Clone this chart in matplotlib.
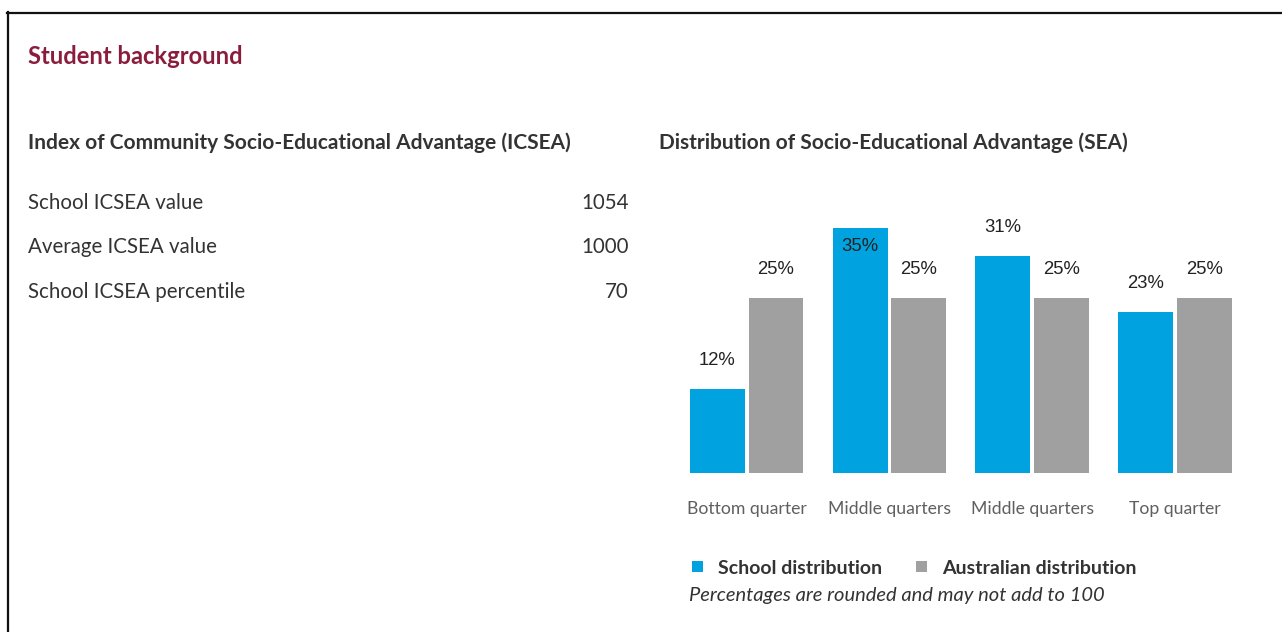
import matplotlib
matplotlib.use("Agg")
import matplotlib.pyplot as plt
from matplotlib.patches import Patch
from matplotlib.lines import Line2D
import numpy as np

# --- data -------------------------------------------------------------
categories = ["Bottom quarter", "Middle quarters", "Middle quarters", "Top quarter"]
school_pct = [12, 35, 31, 23]
australia_pct = [25, 25, 25, 25]

icsea_labels = ["School ICSEA value", "Average ICSEA value", "School ICSEA percentile"]
icsea_values = ["1054", "1000", "70"]

series_names = ["School distribution", "Australian distribution"]

# --- style ------------------------------------------------------------
BLUE = "#00A3DF"
GREY = "#A0A0A0"
TITLE_RED = "#8A1C3C"
DARK = "#333333"
AXIS_TXT = "#5F5F5F"
FONT = "Lato"

W, H = 1282, 632
fig = plt.figure(figsize=(W / 100, H / 100), dpi=100)
fig.patch.set_facecolor("white")


def fx(x):
    return x / W


def fy(y):
    return 1 - y / H


def ftext(x, y, s, **kw):
    kw.setdefault("family", FONT)
    kw.setdefault("color", DARK)
    kw.setdefault("va", "center")
    fig.text(fx(x), fy(y), s, **kw)


# frame lines (top and left edges of the panel)
fig.add_artist(Line2D([fx(7), fx(W)], [fy(12.5), fy(12.5)], color="#111111", lw=1.6))
fig.add_artist(Line2D([fx(7.5), fx(7.5)], [fy(12), fy(H)], color="#111111", lw=1.6))

# headings
ftext(28, 57, "Student background", size=17.1, weight="bold", color=TITLE_RED)
ftext(28, 143, "Index of Community Socio-Educational Advantage (ICSEA)", size=15, weight="bold")
ftext(659, 143, "Distribution of Socio-Educational Advantage (SEA)", size=15, weight="bold")

# ICSEA table
row_y = [203, 247, 292]
for lab, val, y in zip(icsea_labels, icsea_values, row_y):
    ftext(28, y, lab, size=14.8)
    ftext(629, y, val, size=14.8, ha="right")

# --- bar chart --------------------------------------------------------
group_px = 142.7
center0 = 746.75
base_y = 473
px_per_pct = 7.0
ymax = 36
left_px = center0 - 0.5 * group_px
ax = fig.add_axes([fx(left_px), fy(base_y), 4 * group_px / W, ymax * px_per_pct / H])

x = np.arange(len(categories))
off = 0.205
bw = 0.385
ax.bar(x - off, school_pct, width=bw, color=BLUE, edgecolor="none")
ax.bar(x + off, australia_pct, width=bw, color=GREY, edgecolor="none")
ax.set_xlim(-0.5, len(categories) - 0.5)
ax.set_ylim(0, ymax)
ax.axis("off")

label_kw = dict(ha="center", va="center", size=13.3, family="Liberation Sans", color="#222222")
lab_off = 4.1
for xi, v in zip(x - off, school_pct):
    ly = v + lab_off
    if ly > ymax - 0.5:
        ly = v - 2.6
    ax.text(xi, ly, f"{v}%", **label_kw)
for xi, v in zip(x + off, australia_pct):
    ax.text(xi, v + lab_off, f"{v}%", **label_kw)

for xi, cat in zip(x, categories):
    ax.text(xi, -5.1, cat, ha="center", va="center", size=12.7, family=FONT,
            color=AXIS_TXT, clip_on=False)

handles = [Patch(facecolor=BLUE, edgecolor="none"), Patch(facecolor=GREY, edgecolor="none")]
leg = fig.legend(handles, series_names, loc="center left",
                 bbox_to_anchor=(fx(692), fy(568)), ncol=2, frameon=False,
                 prop=dict(family=FONT, weight="bold", size=14),
                 handlelength=0.55, handleheight=0.55, handletextpad=0.8,
                 columnspacing=1.74, borderpad=0, borderaxespad=0)
for t in leg.get_texts():
    t.set_color(DARK)

ftext(689, 596, "Percentages are rounded and may not add to 100", size=14.5, style="italic")

fig.savefig("out.png", dpi=100, facecolor="white")
